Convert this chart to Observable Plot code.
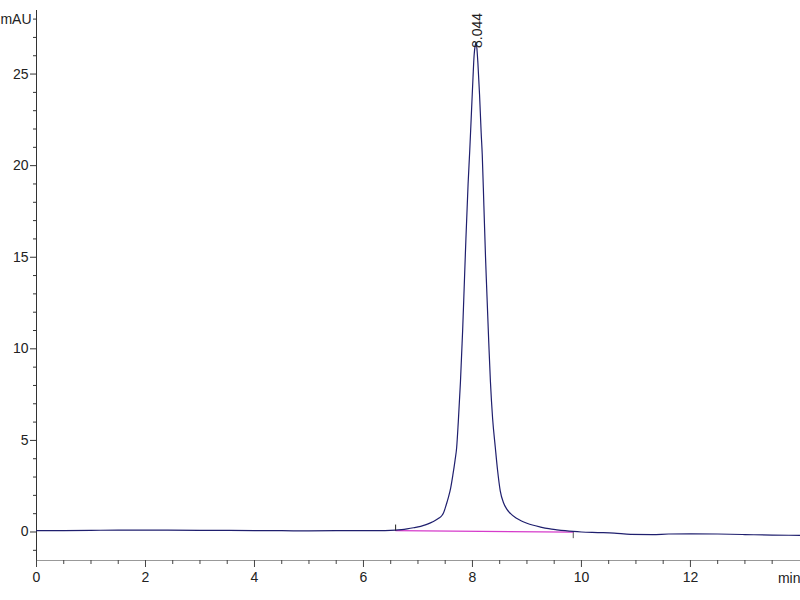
<!DOCTYPE html>
<html>
<head>
<meta charset="utf-8">
<script src="https://cdn.jsdelivr.net/npm/d3@7"></script>
<script src="https://cdn.jsdelivr.net/npm/@observablehq/plot@0.6"></script>
<style>
  html, body { margin: 0; padding: 0; background: #fff; }
  #chart svg { display: block; }
</style>
</head>
<body>
<div id="chart"></div>
<script>
// Retention time (min) and absorbance (mAU)
const times = [0, 0.5, 1.0, 1.5, 2.0, 3.0, 4.0, 4.5, 5.0, 5.5, 5.8, 6.2, 6.59,
  6.70, 6.80, 6.92, 7.05, 7.15, 7.23, 7.30, 7.38, 7.44, 7.47, 7.52, 7.56, 7.60,
  7.64, 7.68, 7.71, 7.74, 7.78, 7.82, 7.85, 7.88, 7.92, 7.95, 7.98, 8.01, 8.03,
  8.05, 8.065, 8.08, 8.10, 8.13, 8.16, 8.18, 8.21, 8.24, 8.26, 8.30, 8.33, 8.37,
  8.42, 8.46, 8.51, 8.57, 8.63, 8.70, 8.80, 8.90, 9.00, 9.10, 9.25, 9.40, 9.55,
  9.70, 9.85, 10.0, 10.3, 10.6, 10.9, 11.3, 11.6, 12.0, 12.5, 13.0, 13.5, 14.02];
const absorbance = [0.08, 0.08, 0.09, 0.10, 0.10, 0.09, 0.08, 0.07, 0.06, 0.07, 0.08, 0.07, 0.10,
  0.13, 0.17, 0.23, 0.31, 0.40, 0.50, 0.60, 0.75, 0.90, 1.05, 1.5, 1.9, 2.4,
  3.1, 3.9, 4.6, 6.0, 8.2, 11.0, 13.5, 16.0, 19.0, 20.8, 22.8, 24.8, 26.0,
  26.55, 26.7, 26.45, 25.6, 23.9, 21.8, 20.6, 17.8, 15.0, 13.4, 10.3, 8.2, 6.2,
  4.6, 3.4, 2.25, 1.6, 1.25, 1.0, 0.76, 0.60, 0.48, 0.38, 0.27, 0.18, 0.12,
  0.07, 0.03, 0.0, -0.03, -0.06, -0.13, -0.14, -0.11, -0.10, -0.11, -0.14, -0.17, -0.18];

// Integration baseline of the peak (start / end)
const baseTimes = [6.59, 9.85];
const baseValues = [0.08, -0.01];

// Peak annotation
const peakTime = [8.044];
const peakHeight = [26.7];
const peakLabel = ["8.044"];

// Axis ticks
const yMajor = [0, 5, 10, 15, 20, 25];
const yMinor = [-1, 1, 2, 3, 4, 6, 7, 8, 9, 11, 12, 13, 14, 16, 17, 18, 19, 21, 22, 23, 24, 26, 27];
const yUnitTick = [28];
const xMajor = [0, 2, 4, 6, 8, 10, 12];
const xMinor = [0.5, 1, 1.5, 2.5, 3, 3.5, 4.5, 5, 5.5, 6.5, 7, 7.5, 8.5, 9, 9.5, 10.5, 11, 11.5, 12.5, 13, 13.5];
const xUnit = [{t: 14.02, label: "min"}];

const signal = times.map((t, i) => ({t, v: absorbance[i]}));
const baseline = baseTimes.map((t, i) => ({t, v: baseValues[i]}));
const peaks = peakTime.map((t, i) => ({t, v: peakHeight[i], label: peakLabel[i]}));

const tickUp = {draw(ctx) { ctx.moveTo(0, 0); ctx.lineTo(0, -6); }};
const tickDown = {draw(ctx) { ctx.moveTo(0, 0); ctx.lineTo(0, 6); }};

const font = "'Liberation Sans Narrow', 'Arial Narrow', 'Liberation Sans', Arial, sans-serif";

const chart = Plot.plot({
  width: 800,
  height: 600,
  marginLeft: 36,
  marginRight: 0,
  marginTop: 10,
  marginBottom: 40,
  style: {fontFamily: font, fontSize: "14px", color: "#222", background: "#fff"},
  x: {domain: [0, 14.02]},
  y: {domain: [-1.556, 28.47]},
  marks: [
    Plot.ruleY([-1.556], {stroke: "#999", strokeWidth: 1}),
    Plot.ruleX([0], {stroke: "#333", strokeWidth: 1}),
    Plot.axisY({ticks: yMajor, tickSize: 6, tickPadding: 2, label: null, stroke: "#333"}),
    Plot.axisY({ticks: yMinor, tickSize: 3, tickFormat: () => "", label: null, stroke: "#333"}),
    Plot.axisY({ticks: yUnitTick, tickSize: 3, tickPadding: 2, tickFormat: () => "mAU", label: null, stroke: "#333"}),
    Plot.axisX({ticks: xMajor, tickSize: 7, tickPadding: 5, label: null, stroke: "#444", anchor: "bottom"}),
    Plot.axisX({ticks: xMinor, tickSize: 4, tickFormat: () => "", label: null, stroke: "#444", anchor: "bottom"}),
    Plot.text(xUnit, {x: "t", frameAnchor: "bottom", text: "label", textAnchor: "end", lineAnchor: "top", dy: 13, fill: "#222", fontSize: 14}),
    Plot.line(baseline, {x: "t", y: "v", stroke: "#d63ccb", strokeWidth: 1.2}),
    Plot.line(signal, {x: "t", y: "v", stroke: "#1f1f6e", strokeWidth: 1.2, curve: "monotone-x"}),
    Plot.dot([baseline[0]], {x: "t", y: "v", symbol: tickUp, stroke: "#222", strokeWidth: 1, r: 3}),
    Plot.dot([baseline[1]], {x: "t", y: "v", symbol: tickDown, stroke: "#555", strokeWidth: 1, r: 3}),
    Plot.text(peaks, {x: "t", y: "v", text: "label", rotate: -90, textAnchor: "start", dx: 2.5, dy: 5, fill: "#222", fontSize: 14})
  ]
});
document.getElementById("chart").appendChild(chart);
</script>
</body>
</html>
